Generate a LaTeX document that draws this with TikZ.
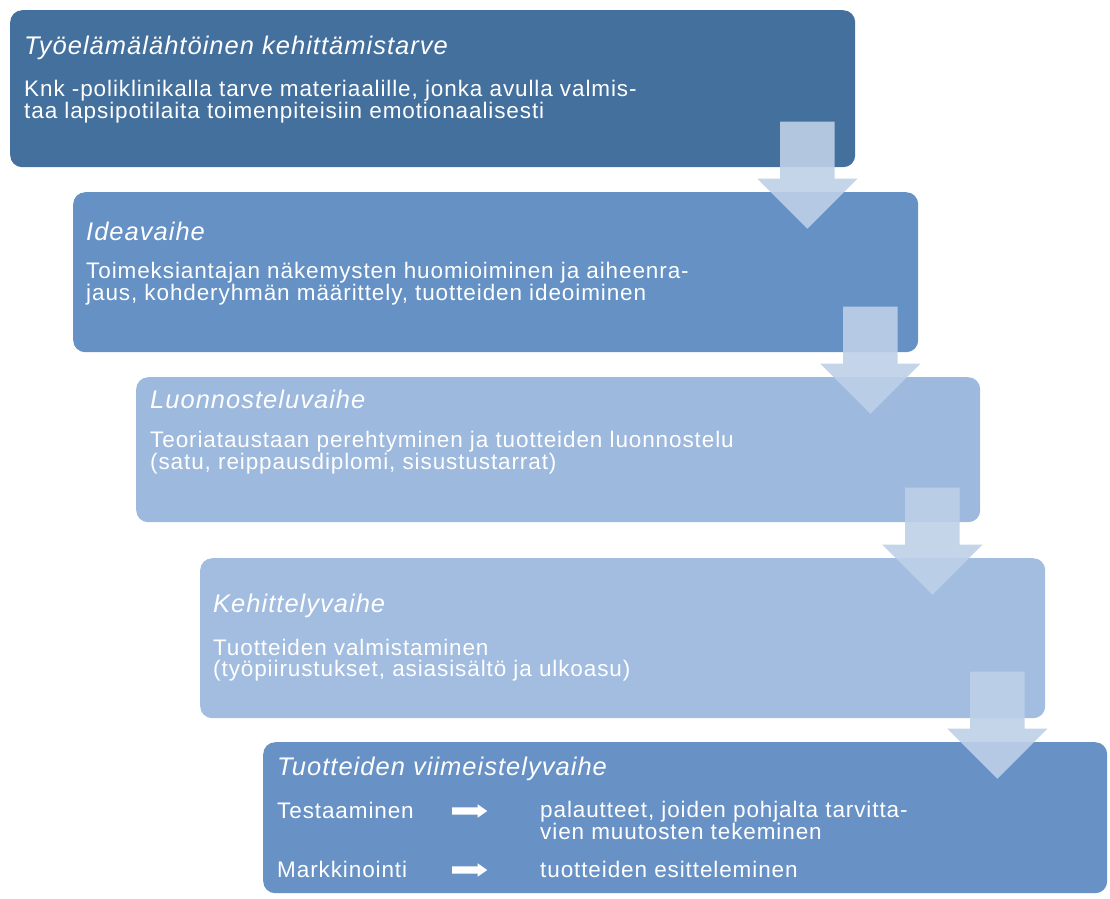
\documentclass[tikz,border=0pt]{standalone}
\usepackage{fontspec}
\setmainfont{Liberation Sans}[LetterSpace=4]
\usetikzlibrary{positioning, calc, shapes.arrows}

\definecolor{phaseA}{RGB}{68,112,158}
\definecolor{phaseB}{RGB}{101,145,197}
\definecolor{phaseC}{RGB}{157,185,221}
\definecolor{phaseD}{RGB}{162,189,224}
\definecolor{phaseE}{RGB}{104,146,198}
\definecolor{arrowc}{RGB}{190,208,232}

\begin{document}
\begin{tikzpicture}[x=1pt, y=-1pt,
	phasebox/.style={rounded corners=12pt, anchor=north west, inner sep=0pt},
	phasetitle/.style={anchor=base west, inner sep=0pt, text=white, font=\fontsize{25.5}{27}\selectfont\itshape},
	% base of a two-line text is its last line
	phasetext/.style={anchor=base west, inner sep=0pt, text=white, align=left, font=\fontsize{22.5}{20.5}\selectfont},
	steparrow/.style={single arrow, rotate=-90, anchor=tip, fill=arrowc, fill opacity=.9, inner xsep=0pt, inner ysep=27pt,
		minimum height=107pt, single arrow head extend=23pt},
	pointer/.style={single arrow, anchor=tail, fill=white, inner xsep=0pt, inner ysep=3.5pt, minimum height=35pt,
		single arrow head extend=3pt, single arrow tip angle=70}]
	\useasboundingbox (0,0) rectangle (1110,898);
	% the five phases
	\node[phasebox, fill=phaseA, minimum width=845pt, minimum height=157pt] (b1) at (10,10) {};
	\node[phasebox, fill=phaseB, minimum width=845pt, minimum height=160pt] (b2) at (73,192) {};
	\node[phasebox, fill=phaseC, minimum width=844pt, minimum height=145pt] (b3) at (136,377) {};
	\node[phasebox, fill=phaseD, minimum width=845pt, minimum height=160pt] (b4) at (200,558) {};
	\node[phasebox, fill=phaseE, minimum width=844pt, minimum height=151pt] (b5) at (263,742) {};
	% arrows from one phase to the next
	\node[steparrow] (a1) at ($(b1.east |- b2.north)+(-48pt,-37pt)$) {};
	\node[steparrow] (a2) at ($(b2.east |- b3.north)+(-48pt,-37pt)$) {};
	\node[steparrow] (a3) at ($(b3.east |- b4.north)+(-48pt,-37pt)$) {};
	\node[steparrow] (a4) at ($(b4.east |- b5.north)+(-48pt,-37pt)$) {};
	% texts
	\node[phasetitle] (t1) at (24,54) {Työelämälähtöinen kehittämistarve};
	\node[phasetext] (d1) at (24,118.5) {Knk -poliklinikalla tarve materiaalille, jonka avulla valmis-\\taa lapsipotilaita toimenpiteisiin emotionaalisesti};
	\node[phasetitle] (t2) at (86,240) {Ideavaihe};
	\node[phasetext] (d2) at (86,300.5) {Toimeksiantajan näkemysten huomioiminen ja aiheenra-\\jaus, kohderyhmän määrittely, tuotteiden ideoiminen};
	\node[phasetitle] (t3) at (150,408) {Luonnosteluvaihe};
	\node[phasetext] (d3) at (150,469.5) {Teoriataustaan perehtyminen ja tuotteiden luonnostelu\\(satu, reippausdiplomi, sisustustarrat)};
	\node[phasetitle] (t4) at (213,612) {Kehittelyvaihe};
	\node[phasetext] (d4) at (213,676) {Tuotteiden valmistaminen\\(työpiirustukset, asiasisältö ja ulkoasu)};
	\node[phasetitle] (t5) at (277,775) {Tuotteiden viimeistelyvaihe};
	\node[phasetext] (r1) at (277,818) {Testaaminen};
	\node[pointer] (p1) at (452,811) {};
	\node[phasetext] (s1) at (540,839.5) {palautteet, joiden pohjalta tarvitta-\\vien muutosten tekeminen};
	\node[phasetext] (r2) at (277,877) {Markkinointi};
	\node[pointer] (p2) at (452,870) {};
	\node[phasetext] (s2) at (540,877) {tuotteiden esitteleminen};
\end{tikzpicture}
\end{document}
